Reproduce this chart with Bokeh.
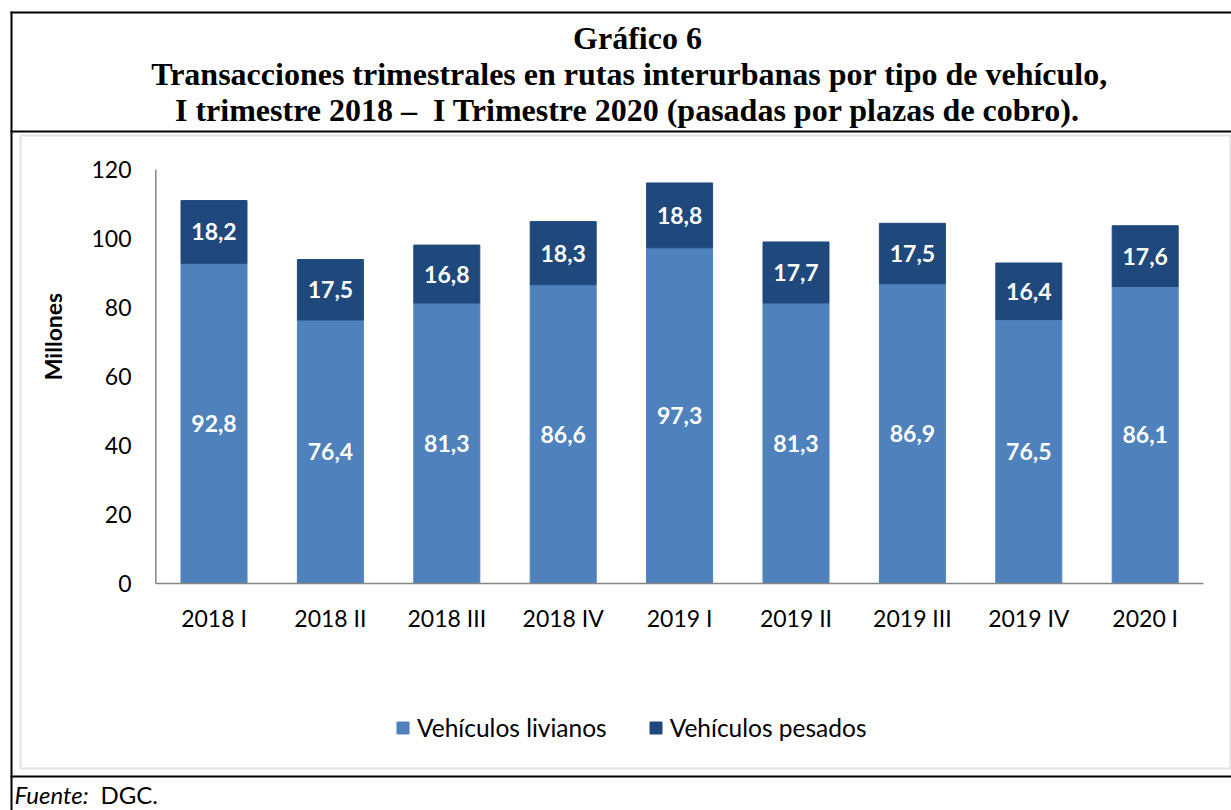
import math
from bokeh.plotting import figure
from bokeh.models import Range1d, Label, BoxAnnotation, ColumnDataSource
from bokeh.embed import file_html
from bokeh.resources import INLINE
from bokeh.core.properties import value

# ---------------- data ----------------
categories = ["2018 I", "2018 II", "2018 III", "2018 IV", "2019 I",
              "2019 II", "2019 III", "2019 IV", "2020 I"]
livianos = [92.8, 76.4, 81.3, 86.6, 97.3, 81.3, 86.9, 76.5, 86.1]
pesados = [18.2, 17.5, 16.8, 18.3, 18.8, 17.7, 17.5, 16.4, 17.6]
series_names = ["Vehículos livianos", "Vehículos pesados"]
series_colors = ["#4F81BD", "#1F497D"]
y_ticks = [0, 20, 40, 60, 80, 100, 120]
title_lines = ["Gráfico 6",
               "Transacciones trimestrales en rutas interurbanas por tipo de vehículo,",
               "I trimestre 2018 \u2013\u00a0 I Trimestre 2020 (pasadas por plazas de cobro)."]
source_label = "Fuente:"
source_text = "DGC."
y_label = "Millones"

# ---------------- layout (canvas px) ----------------
W, H = 1231, 810
X0, DX = 155.3, 116.4      # left edge of first category, px per category
Y0, KY = 583.0, 3.45       # px of value 0, px per unit
AXIS_COLOR = "#868686"
FONT = "Lato"


def dx(cx):      # canvas px -> data x
    return (cx - X0) / DX


def dy(cy):      # canvas px -> data y
    return (Y0 - cy) / KY


def sy(cy):      # canvas px -> screen y (from bottom)
    return H - cy


p = figure(width=W, height=H, output_backend="svg", toolbar_location=None,
           x_range=Range1d(dx(0), dx(W)), y_range=Range1d(dy(H), dy(0)),
           x_axis_location=None, y_axis_location=None,
           min_border=0, background_fill_color="white", border_fill_color="white")
p.outline_line_color = None
p.grid.visible = False
p.title.visible = False

fmt = lambda v: f"{v:.1f}".replace(".", ",")
xs = [i + 0.5 for i in range(len(categories))]
src = ColumnDataSource(dict(
    x=xs, cat=categories, livianos=livianos, pesados=pesados,
    mid_l=[l / 2 for l in livianos],
    mid_p=[l + q / 2 for l, q in zip(livianos, pesados)],
    lab_l=[fmt(v) for v in livianos],
    lab_p=[fmt(v) for v in pesados],
))

p.vbar_stack(["livianos", "pesados"], x="x", width=0.567, source=src,
             color=series_colors, legend_label=series_names)

for col, lab in (("mid_l", "lab_l"), ("mid_p", "lab_p")):
    p.text(x="x", y=col, text=lab, source=src, text_color="white",
           text_font=value(FONT), text_font_style="bold", text_font_size="23px",
           text_align="center", text_baseline="middle")

# ---- axes (lines + labels drawn on the data scales) ----
p.segment(x0=[0], y0=[0], x1=[0], y1=[max(y_ticks)], line_color=AXIS_COLOR, line_width=1.5)
p.segment(x0=[0], y0=[0], x1=[len(categories)], y1=[0], line_color=AXIS_COLOR, line_width=1.5)
p.text(x=[dx(131)] * len(y_ticks), y=y_ticks, text=[str(t) for t in y_ticks],
       text_font=value(FONT), text_font_size="23px", text_color="black",
       text_align="right", text_baseline="middle")
p.text(x=xs, y=[dy(617)] * len(categories), text=categories,
       text_font=value(FONT), text_font_size="23px", text_color="black",
       text_align="center", text_baseline="middle")
p.text(x=[dx(52)], y=[dy(336)], text=[y_label], angle=math.pi / 2,
       text_font=value(FONT), text_font_style="bold", text_font_size="23px",
       text_color="black", text_align="center", text_baseline="middle")

# ---- legend ----
lg = p.legend[0]
lg.orientation = "horizontal"
lg.location = (395, sy(742))
lg.glyph_width = 15
lg.glyph_height = 15
lg.label_standoff = 7
lg.spacing = 41
lg.padding = 0
lg.margin = 0
lg.border_line_color = None
lg.background_fill_alpha = 0
lg.label_text_font = FONT
lg.label_text_font_size = "24.5px"
lg.label_text_color = "black"


def box(l, t, r, b, **kw):
    p.add_layout(BoxAnnotation(left=l, right=r, top=sy(t), bottom=sy(b),
                               left_units="screen", right_units="screen",
                               top_units="screen", bottom_units="screen",
                               level="overlay", **kw))


# ---- frames ----
black = dict(fill_color="black", fill_alpha=1, line_color=None)
box(10, 11, 1240, 13, **black)      # top
box(10, 11, 12, 820, **black)       # left
box(10, 130, 1240, 132, **black)    # under title
box(10, 775, 1240, 777, **black)    # above source
box(20, 135, 1230, 768, fill_alpha=0, line_color="#a0a0a0", line_width=2)

# ---- title ----
title_x = [637, 629, 627]
title_base = [37, 73, 109]
for txt, tx, ty in zip(title_lines, title_x, title_base):
    p.add_layout(Label(x=tx, y=sy(ty), x_units="screen", y_units="screen",
                       text=txt, text_align="center", text_baseline="alphabetic",
                       text_font="Liberation Serif", text_font_style="bold",
                       text_font_size="32px", text_color="black"))

# ---- source ----
p.add_layout(Label(x=14, y=sy(794), x_units="screen", y_units="screen",
                   text=source_label, text_align="left", text_baseline="alphabetic",
                   text_font=FONT, text_font_style="italic", text_font_size="24px",
                   text_color="black"))
p.add_layout(Label(x=100, y=sy(794), x_units="screen", y_units="screen",
                   text=source_text, text_align="left", text_baseline="alphabetic",
                   text_font=FONT, text_font_size="24px", text_color="black"))

open("out.html", "w").write(file_html(p, INLINE))
